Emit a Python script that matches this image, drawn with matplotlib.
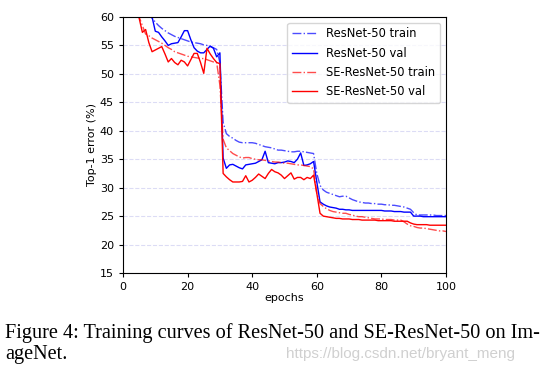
import numpy as np
import matplotlib
matplotlib.use("Agg")
import matplotlib.pyplot as plt

# Top-1 error per epoch (epochs 1..100)
epochs = np.arange(1, 101)

resnet_train = [78, 72, 68, 65, 63.5, 62.3, 61.3, 60.5, 59.8, 59.1,
                58.5, 58.0, 57.6, 57.2, 56.9, 56.6, 56.4, 56.2, 56.0, 55.8,
                55.6, 55.5, 55.4, 55.3, 55.1, 55.0, 54.8, 54.6, 54.3, 52.0,
                41.5, 39.5, 39.0, 38.7, 38.3, 38.0, 37.9, 37.9, 37.9, 37.9,
                37.8, 37.6, 37.4, 37.2, 37.1, 37.0, 36.8, 36.6, 36.6, 36.5,
                36.4, 36.3, 36.3, 36.4, 36.4, 36.3, 36.2, 36.1, 36.0, 32.5,
                30.4, 29.6, 29.2, 29.0, 28.8, 28.6, 28.4, 28.5, 28.5, 28.2,
                27.9, 27.7, 27.5, 27.4, 27.3, 27.3, 27.2, 27.2, 27.1, 27.1,
                27.0, 27.0, 26.9, 26.9, 26.8, 26.7, 26.6, 26.4, 26.2, 25.6,
                25.2, 25.2, 25.2, 25.2, 25.2, 25.2, 25.1, 25.1, 25.1, 25.1]

resnet_val = [85, 78, 72, 68, 65, 63, 62, 61, 60.0, 57.5,
              57.3, 56.5, 55.8, 55.0, 55.3, 55.4, 55.5, 56.5, 57.6, 57.6,
              56.0, 54.6, 54.0, 53.7, 53.7, 54.3, 54.9, 54.5, 53.0, 53.7,
              35.2, 33.4, 34.0, 34.1, 33.8, 33.5, 33.3, 34.0, 34.1, 34.2,
              34.3, 34.6, 34.9, 36.4, 34.4, 34.3, 34.2, 34.4, 34.4, 34.5,
              34.7, 34.6, 34.4, 35.0, 36.1, 33.9, 34.0, 34.2, 34.6, 31.0,
              27.5, 27.1, 26.8, 26.6, 26.5, 26.4, 26.2, 26.2, 26.1, 26.1,
              26.0, 26.0, 26.0, 26.0, 26.0, 26.0, 26.0, 26.0, 26.0, 26.0,
              25.9, 25.9, 25.9, 25.8, 25.8, 25.8, 25.7, 25.7, 25.7, 25.0,
              25.0, 25.0, 24.9, 24.9, 24.9, 24.9, 24.9, 24.9, 24.9, 24.9]

se_train = [75, 68, 64, 61.5, 60.0, 58.5, 57.0, 56.7, 56.3, 56.0,
            55.7, 55.4, 55.0, 54.6, 54.3, 53.9, 53.7, 53.5, 53.3, 53.1,
            53.0, 52.9, 52.8, 52.7, 52.7, 52.5, 52.3, 52.1, 52.0, 48.0,
            38.5, 37.0, 36.5, 36.0, 35.7, 35.4, 35.2, 35.3, 35.3, 35.1,
            35.0, 34.9, 34.9, 34.8, 34.7, 34.6, 34.5, 34.5, 34.4, 34.3,
            34.3, 34.2, 34.1, 34.0, 34.0, 33.9, 33.8, 33.7, 33.3, 29.0,
            27.2, 26.7, 26.3, 26.0, 25.8, 25.7, 25.6, 25.5, 25.5, 25.3,
            25.2, 25.0, 24.9, 24.9, 24.8, 24.7, 24.6, 24.5, 24.5, 24.5,
            24.4, 24.4, 24.4, 24.3, 24.3, 24.3, 24.0, 23.6, 23.3, 23.2,
            23.0, 22.9, 22.9, 22.8, 22.7, 22.6, 22.5, 22.4, 22.4, 22.3]

se_val = [75, 68, 64, 61.5, 59.8, 57.3, 57.8, 55.5, 53.9, 54.2,
          54.5, 54.8, 53.5, 52.1, 52.7, 52.0, 51.6, 52.4, 52.1, 51.4,
          52.5, 53.6, 53.6, 52.0, 50.1, 54.5, 53.5, 52.7, 52.0, 51.8,
          32.5, 31.9, 31.4, 31.0, 31.0, 31.0, 31.1, 32.1, 31.0, 31.3,
          31.8, 32.4, 32.0, 31.6, 32.5, 33.2, 32.8, 32.6, 32.2, 31.6,
          32.1, 32.6, 31.5, 31.8, 31.8, 31.4, 31.8, 31.6, 32.2, 29.0,
          25.5, 25.0, 24.9, 24.8, 24.7, 24.6, 24.6, 24.5, 24.5, 24.5,
          24.4, 24.4, 24.4, 24.3, 24.3, 24.3, 24.3, 24.3, 24.2, 24.2,
          24.2, 24.2, 24.2, 24.1, 24.1, 24.1, 24.1, 24.1, 23.8, 23.6,
          23.5, 23.5, 23.5, 23.5, 23.4, 23.4, 23.4, 23.4, 23.4, 23.4]

fig = plt.figure(figsize=(5.47, 3.76), dpi=100)
ax = fig.add_axes([123/547, 1-273/376, (446-123)/547, (273-17)/376])

ax.plot(epochs, resnet_train, "-.", color="blue", lw=1, alpha=0.7, label="ResNet-50 train")
ax.plot(epochs, resnet_val, "-", color="blue", lw=1, label="ResNet-50 val")
ax.plot(epochs, se_train, "-.", color="red", lw=1, alpha=0.7, label="SE-ResNet-50 train")
ax.plot(epochs, se_val, "-", color="red", lw=1, label="SE-ResNet-50 val")

ax.set_xlim(0, 100)
ax.set_ylim(15, 60)
ax.set_xticks(range(0, 101, 20))
ax.set_yticks(range(15, 61, 5))
ax.tick_params(labelsize=8, length=3)
ax.yaxis.grid(True, linestyle="--", color="#dcdcf5", lw=0.8)
ax.set_xlabel("epochs", fontsize=8, labelpad=1)
ax.set_ylabel("Top-1 error (%)", fontsize=8, labelpad=2)
ax.legend(loc="upper right", fontsize=8.3, handlelength=2.2, labelspacing=0.55)

fig.text(5/547, 1-333/376, "Figure 4: Training curves of ResNet-50 and SE-ResNet-50 on Im-",
         family="Liberation Serif", fontsize=14.6, va="center", ha="left")
fig.text(5/547, 1-354/376, "ageNet.", family="Liberation Serif", fontsize=14.6,
         va="center", ha="left")
fig.text(515/547, 1-354/376, "https://blog.csdn.net/bryant_meng", color="#d0d0d0",
         family="Liberation Sans", fontsize=11, va="center", ha="right")

fig.savefig("out.png", dpi=100)
